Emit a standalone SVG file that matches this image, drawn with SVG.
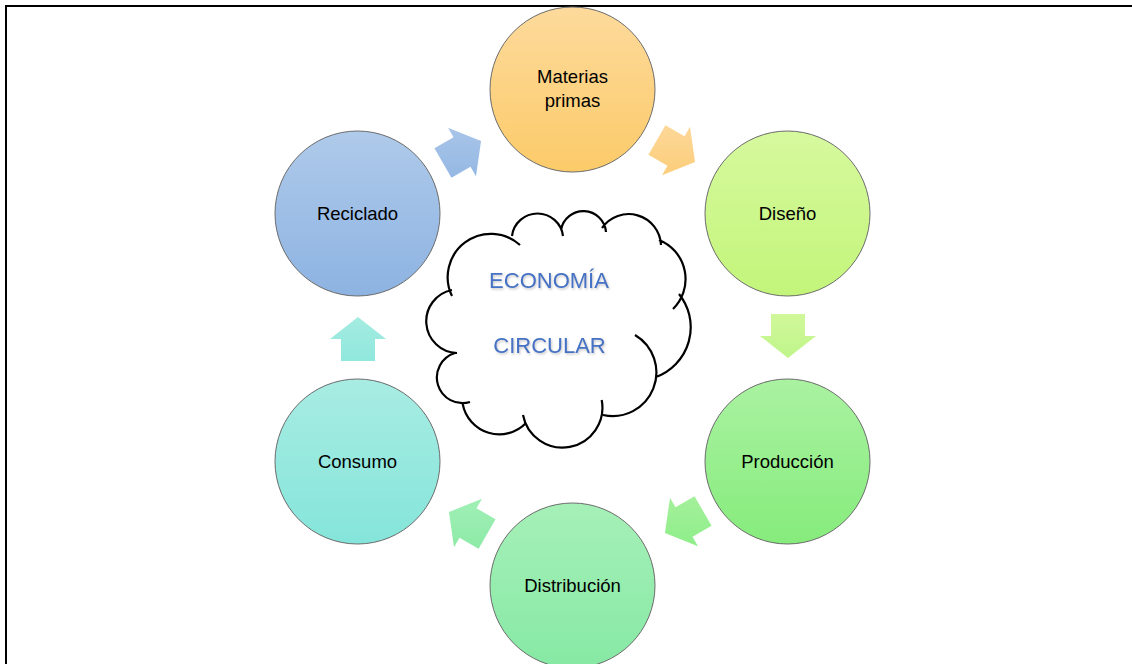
<svg xmlns="http://www.w3.org/2000/svg" width="1132" height="664" viewBox="0 0 1132 664">
<style>
.node circle{stroke:#6b6b6b;stroke-width:1}
.lbl{font-family:"Liberation Sans",Arial,sans-serif;font-size:18.5px;fill:#000;text-anchor:middle}
.cloud{fill:none;stroke:#000;stroke-width:2.2;stroke-linecap:butt}
.ctext{font-family:"Liberation Sans",Arial,sans-serif;font-size:22px;fill:#4472C4;text-anchor:middle}
</style>
<defs>
<linearGradient id="gM" x1="0" y1="0" x2="0" y2="1"><stop offset="0" stop-color="#FDDA9C"/><stop offset="1" stop-color="#FCCB69"/></linearGradient>
<linearGradient id="gD" x1="0" y1="0" x2="0" y2="1"><stop offset="0" stop-color="#D6F99E"/><stop offset="1" stop-color="#C3F57A"/></linearGradient>
<linearGradient id="gP" x1="0" y1="0" x2="0" y2="1"><stop offset="0" stop-color="#AAF2A1"/><stop offset="1" stop-color="#86EC7C"/></linearGradient>
<linearGradient id="gT" x1="0" y1="0" x2="0" y2="1"><stop offset="0" stop-color="#A6F0B8"/><stop offset="1" stop-color="#86E9A4"/></linearGradient>
<linearGradient id="gC" x1="0" y1="0" x2="0" y2="1"><stop offset="0" stop-color="#A8ECE3"/><stop offset="1" stop-color="#85E5DA"/></linearGradient>
<linearGradient id="gR" x1="0" y1="0" x2="0" y2="1"><stop offset="0" stop-color="#AFCAEA"/><stop offset="1" stop-color="#8DB3E2"/></linearGradient>
<linearGradient id="a1" gradientUnits="userSpaceOnUse" x1="14" y1="-24.2" x2="-14" y2="24.2"><stop offset="0" stop-color="#AAC5E8"/><stop offset="1" stop-color="#93B8E4"/></linearGradient>
<linearGradient id="a2" gradientUnits="userSpaceOnUse" x1="-14" y1="-24.2" x2="14" y2="24.2"><stop offset="0" stop-color="#FDD89A"/><stop offset="1" stop-color="#FCCD78"/></linearGradient>
<linearGradient id="a3" gradientUnits="userSpaceOnUse" x1="-28" y1="0" x2="28" y2="0"><stop offset="0" stop-color="#D3F89C"/><stop offset="1" stop-color="#BDF588"/></linearGradient>
<linearGradient id="a4" gradientUnits="userSpaceOnUse" x1="-14" y1="24.2" x2="14" y2="-24.2"><stop offset="0" stop-color="#A5F09C"/><stop offset="1" stop-color="#8DEE88"/></linearGradient>
<linearGradient id="a5" gradientUnits="userSpaceOnUse" x1="14" y1="24.2" x2="-14" y2="-24.2"><stop offset="0" stop-color="#A2F0B7"/><stop offset="1" stop-color="#8CEAA6"/></linearGradient>
<linearGradient id="a6" gradientUnits="userSpaceOnUse" x1="28" y1="0" x2="-28" y2="0"><stop offset="0" stop-color="#A6ECE2"/><stop offset="1" stop-color="#8EE7DC"/></linearGradient>
<path id="arr" d="M-22,-17 L0,-17 L0,-28 L22,0 L0,28 L0,17 L-22,17 Z"/>
<filter id="sh" x="-10%" y="-30%" width="120%" height="160%"><feDropShadow dx="1" dy="1.5" stdDeviation="1.2" flood-color="#7f7f7f" flood-opacity="0.45"/></filter>
</defs>
<rect x="0" y="0" width="1132" height="664" fill="#fff"/>
<rect x="6" y="6" width="1140" height="700" fill="none" stroke="#000" stroke-width="2"/>

<g id="connectors">
<use href="#arr" fill="url(#a1)" transform="translate(462,152) rotate(-30)"/>
<use href="#arr" fill="url(#a2)" transform="translate(676,151) rotate(30)"/>
<use href="#arr" fill="url(#a3)" transform="translate(788,336) rotate(90)"/>
<use href="#arr" fill="url(#a4)" transform="translate(684,522) rotate(150)"/>
<use href="#arr" fill="url(#a5)" transform="translate(468,523) rotate(210)"/>
<use href="#arr" fill="url(#a6)" transform="translate(358,339) rotate(270)"/>
</g>

<g id="materias" class="node"><circle cx="572.5" cy="89.5" r="82.5" fill="url(#gM)"/><text class="lbl" x="572.5" y="83">Materias</text><text class="lbl" x="572.5" y="107">primas</text></g>
<g id="diseno" class="node"><circle cx="787.5" cy="213.5" r="82.5" fill="url(#gD)"/><text class="lbl" x="787.5" y="219.5">Diseño</text></g>
<g id="produccion" class="node"><circle cx="787.5" cy="461.5" r="82.5" fill="url(#gP)"/><text class="lbl" x="787.5" y="467.5">Producción</text></g>
<g id="distribucion" class="node"><circle cx="572.5" cy="585.5" r="82.5" fill="url(#gT)"/><text class="lbl" x="572.5" y="591.5">Distribución</text></g>
<g id="consumo" class="node"><circle cx="357.5" cy="461.5" r="82.5" fill="url(#gC)"/><text class="lbl" x="357.5" y="467.5">Consumo</text></g>
<g id="reciclado" class="node"><circle cx="357.5" cy="213.5" r="82.5" fill="url(#gR)"/><text class="lbl" x="357.5" y="219.5">Reciclado</text></g>

<g id="cloud">
<path class="cloud" d="M452,296 A43.3,43.3 0 0 1 520,245 M512,236 A25.7,25.7 0 0 1 563,236 M561,230 A22.7,22.7 0 0 1 606,232 M602,228 A32.4,32.4 0 0 1 661,245 M659,240 A42,42 0 0 1 673,309 M679,294 A53,53 0 0 1 656,377 M635,335 A43.6,43.6 0 0 1 603,415 M601.7,400 A40,40 0 0 1 523,415 M526,423 A37.2,37.2 0 0 1 462.7,404 M470,402 A25.6,25.6 0 0 1 455,353 M457,353 A31.8,31.8 0 0 1 452,290"/>
<text class="ctext" x="549" y="288" filter="url(#sh)">ECONOMÍA</text>
<text class="ctext" x="549.5" y="353" filter="url(#sh)">CIRCULAR</text>
</g>
</svg>
